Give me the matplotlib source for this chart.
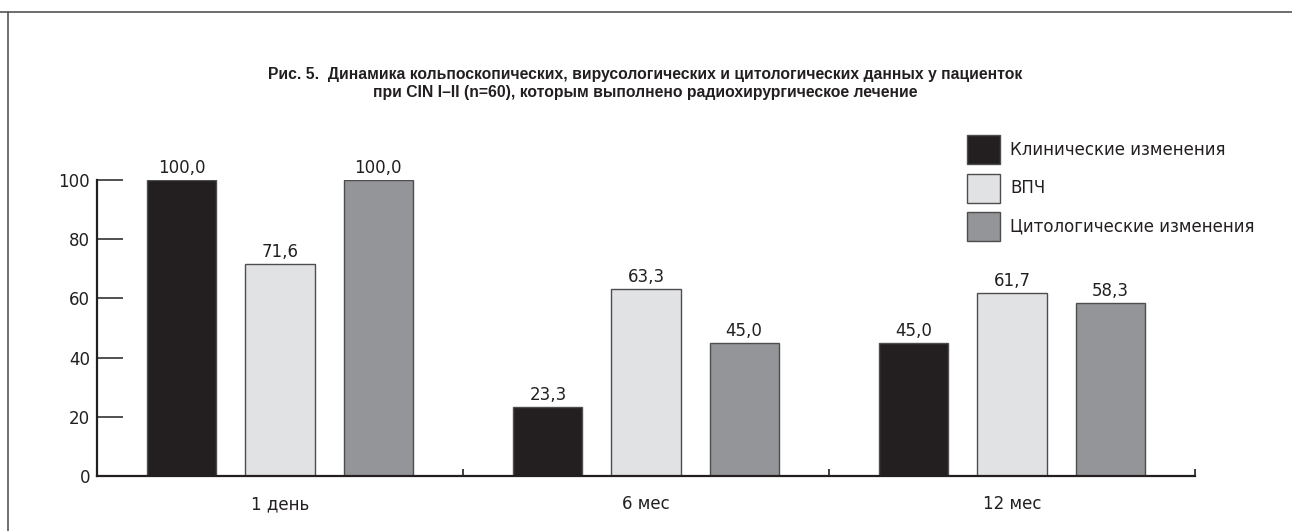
import numpy as np
import matplotlib
matplotlib.use("Agg")
import matplotlib.pyplot as plt
from matplotlib import font_manager
from matplotlib.patches import Patch
from matplotlib.lines import Line2D

# --- Data ---
periods = ["1 день", "6 мес", "12 мес"]
series_names = ["Клинические изменения", "ВПЧ", "Цитологические изменения"]
clinical = [100.0, 23.3, 45.0]
hpv = [71.6, 63.3, 61.7]
cytology = [100.0, 45.0, 58.3]
yticks = [0, 20, 40, 60, 80, 100]

title = ("Рис. 5.  Динамика кольпоскопических, вирусологических и цитологических данных у пациенток\n"
         "при CIN I–II (n=60), которым выполнено радиохирургическое лечение")

colors = ["#231f20", "#e1e2e4", "#939598"]
edge = "#4d4d4f"
ink = "#231f20"

installed = {f.name for f in font_manager.fontManager.ttflist}
narrow = "Liberation Sans Narrow" if "Liberation Sans Narrow" in installed else "Liberation Sans"
plt.rcParams["font.family"] = ["DejaVu Sans"]

fig = plt.figure(figsize=(12.92, 5.31), dpi=100)
ax = fig.add_axes([97 / 1292, 1 - 476 / 531, (1195 - 97) / 1292, (476 - 180) / 531])

x = np.arange(len(periods)) + 0.5
width = 0.189
offset = 0.268
for i, (vals, c) in enumerate(zip([clinical, hpv, cytology], colors)):
    pos = x + (i - 1) * offset
    bars = ax.bar(pos, vals, width=width, color=c, edgecolor=edge, linewidth=1.0, zorder=2)
    for b, v in zip(bars, vals):
        ax.text(b.get_x() + b.get_width() / 2, v + 1.0, f"{v:.1f}".replace(".", ","),
                ha="center", va="bottom", fontsize=12, color=ink, clip_on=False)

ax.set_xlim(0, 3)
ax.set_ylim(0, 100)
for s in ["top", "right"]:
    ax.spines[s].set_visible(False)
for s in ["left", "bottom"]:
    ax.spines[s].set_linewidth(1.6)
    ax.spines[s].set_color(ink)

ax.set_yticks(yticks)
ax.set_yticklabels([str(t) for t in yticks], fontsize=12, color=ink)
ax.tick_params(axis="y", direction="in", length=19, width=1.1, color=ink, pad=5)

ax.set_xticks(x)
ax.set_xticklabels(periods, fontsize=12, color=ink)
ax.tick_params(axis="x", which="major", length=0, pad=14)
ax.set_xticks([1, 2, 3], minor=True)
ax.tick_params(axis="x", which="minor", direction="in", length=5, width=1.2, color=ink)

fig.text(645 / 1292, 1 - 84 / 531, title, ha="center", va="center", fontsize=11.3,
         fontweight="bold", family=[narrow, "DejaVu Sans"], color=ink, linespacing=1.25)

# square legend swatches (handleheight accounts for matplotlib's descent trim)
handles = [Patch(facecolor=c, edgecolor=edge, linewidth=1.0) for c in colors]
fig.legend(handles, series_names, loc="upper left", bbox_to_anchor=(967 / 1292, 1 - 135 / 531),
           frameon=False, fontsize=12, handlelength=1.98, handleheight=2.3,
           labelspacing=0.57, handletextpad=0.6, borderpad=0, borderaxespad=0,
           labelcolor=ink)

# outer frame lines
fig.add_artist(Line2D([0, 1], [1 - 12 / 531, 1 - 12 / 531], color="#555555", linewidth=1.2))
fig.add_artist(Line2D([8 / 1292, 8 / 1292], [0, 1 - 12 / 531], color="#555555", linewidth=1.2))

fig.savefig("out.png", dpi=100)
